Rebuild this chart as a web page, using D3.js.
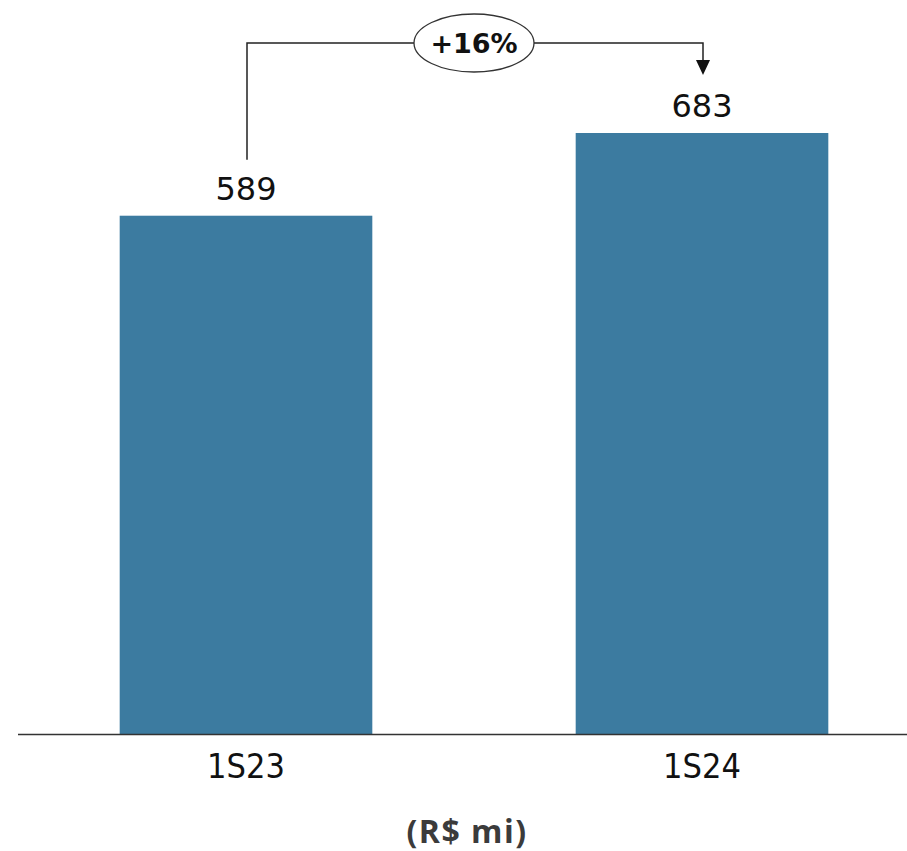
<!DOCTYPE html>
<html>
<head>
<meta charset="utf-8">
<script src="https://cdn.jsdelivr.net/npm/d3@7"></script>
<style>
  html, body { margin: 0; padding: 0; background: #ffffff; }
  svg { display: block; }
</style>
</head>
<body>
<svg id="chart" width="907" height="851"></svg>
<script>
// ---- data ----
const categories = ["1S23", "1S24"];
const values = [589, 683];
const growthLabel = "+16%";
const unitLabel = "(R$ mi)";

// ---- layout ----
const W = 907, H = 851;
const baseY = 734;
const svg = d3.select("#chart");

const x = d3.scaleBand()
  .domain(categories)
  .range([18, 930])
  .paddingInner(0.446)
  .paddingOuter(0.223);

const y = d3.scaleLinear()
  .domain([0, 683])
  .range([baseY, 133]);

// bars
svg.selectAll("rect.bar")
  .data(values)
  .join("rect")
  .attr("class", "bar")
  .attr("x", (d, i) => x(categories[i]))
  .attr("y", d => y(d))
  .attr("width", x.bandwidth())
  .attr("height", d => baseY - y(d))
  .attr("fill", "#3c7ba0");

// baseline
svg.append("line")
  .attr("x1", 18).attr("x2", W)
  .attr("y1", baseY + 0.5).attr("y2", baseY + 0.5)
  .attr("stroke", "#333").attr("stroke-width", 1.5);

// value labels
svg.selectAll("text.val")
  .data(values)
  .join("text")
  .attr("class", "val")
  .attr("x", (d, i) => x(categories[i]) + x.bandwidth() / 2)
  .attr("y", d => y(d) - 16)
  .attr("text-anchor", "middle")
  .attr("font-family", "'DejaVu Sans', Verdana, sans-serif")
  .attr("font-size", 32)
  .attr("fill", "#111")
  .text(d => d);

// category labels
svg.selectAll("text.cat")
  .data(categories)
  .join("text")
  .attr("class", "cat")
  .attr("x", d => x(d) + x.bandwidth() / 2)
  .attr("y", 778)
  .attr("text-anchor", "middle")
  .attr("font-family", "'DejaVu Sans Condensed', 'Liberation Sans Narrow', 'DejaVu Sans', sans-serif")
  .attr("font-stretch", "condensed")
  .attr("font-size", 34)
  .attr("fill", "#111")
  .text(d => d);

// unit label
svg.append("text")
  .attr("x", 467)
  .attr("y", 843)
  .attr("text-anchor", "middle")
  .attr("font-family", "'Open Sans', Lato, sans-serif")
  .attr("font-weight", "bold")
  .attr("font-size", 32)
  .attr("letter-spacing", 1.5)
  .attr("fill", "#3b3b3b")
  .text(unitLabel);

// growth connector
const x1c = x(categories[0]) + x.bandwidth() / 2 + 1;
const x2c = x(categories[1]) + x.bandwidth() / 2 + 1;
const topY = 43;
const ellCx = 474, ellRx = 60, ellRy = 29;

svg.append("path")
  .attr("d", `M${x1c},${y(values[0]) - 56} V${topY} H${ellCx - ellRx}`)
  .attr("fill", "none").attr("stroke", "#222").attr("stroke-width", 1.5);
svg.append("path")
  .attr("d", `M${ellCx + ellRx},${topY} H${x2c} V${62}`)
  .attr("fill", "none").attr("stroke", "#222").attr("stroke-width", 1.5);
svg.append("path")
  .attr("d", `M${x2c - 7},${60} L${x2c + 7},${60} L${x2c},${75} Z`)
  .attr("fill", "#111");

svg.append("ellipse")
  .attr("cx", ellCx).attr("cy", topY)
  .attr("rx", ellRx).attr("ry", ellRy)
  .attr("fill", "#fff").attr("stroke", "#333").attr("stroke-width", 1.3);

svg.append("text")
  .attr("x", ellCx).attr("y", topY + 10)
  .attr("text-anchor", "middle")
  .attr("font-family", "'DejaVu Sans', Verdana, sans-serif")
  .attr("font-weight", "bold")
  .attr("font-size", 27)
  .attr("fill", "#111")
  .text(growthLabel);
</script>
</body>
</html>
